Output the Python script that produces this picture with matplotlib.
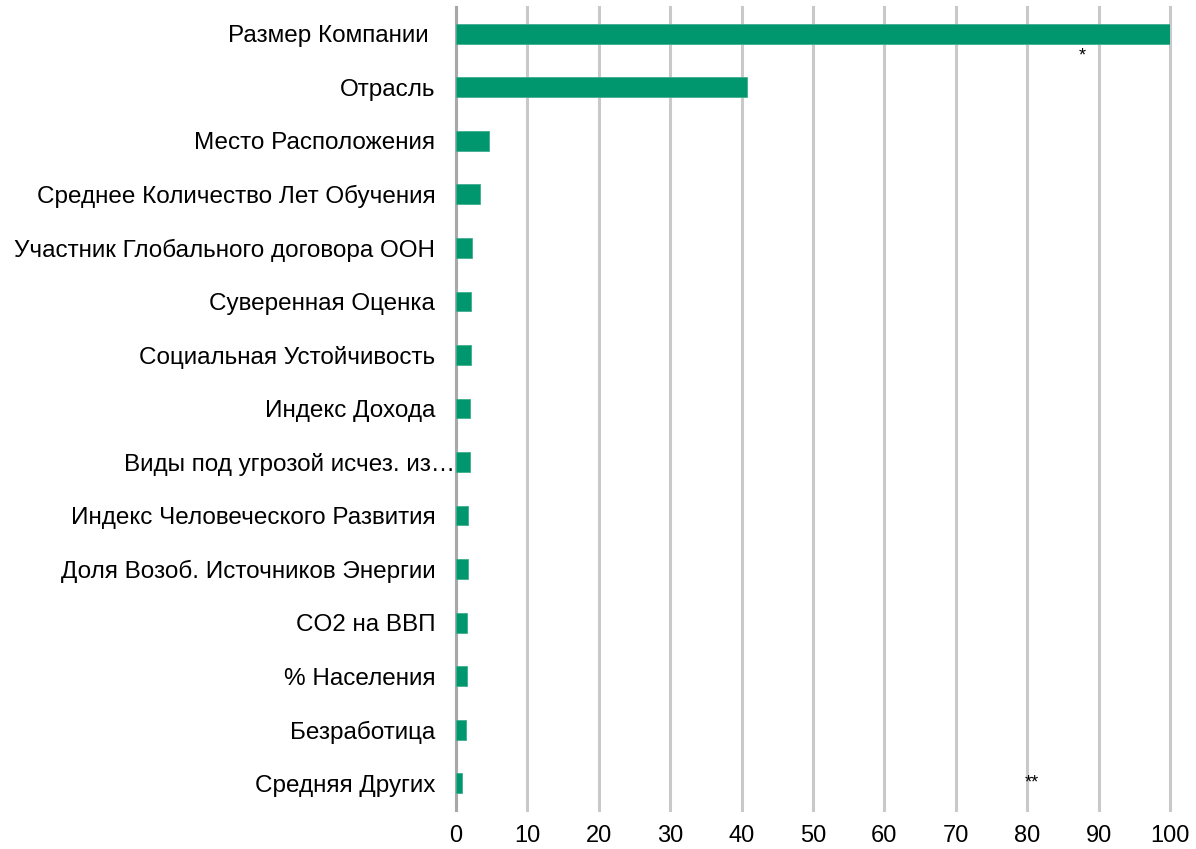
import matplotlib
matplotlib.use("Agg")
import matplotlib.pyplot as plt
import matplotlib.transforms as mtransforms

categories = [
    "Размер Компании ",
    "Отрасль",
    "Место Расположения",
    "Среднее Количество Лет Обучения",
    "Участник Глобального договора ООН",
    "Суверенная Оценка",
    "Социальная Устойчивость",
    "Индекс Дохода",
    "Виды под угрозой исчез. из…",
    "Индекс Человеческого Развития",
    "Доля Возоб. Источников Энергии",
    "CO2 на ВВП",
    "% Населения",
    "Безработица",
    "Средняя Других",
]
values = [100, 40.8, 4.6, 3.4, 2.3, 2.1, 2.1, 2.0, 2.0, 1.75, 1.7, 1.6, 1.55, 1.35, 0.85]
x_ticks = [0, 10, 20, 30, 40, 50, 60, 70, 80, 90, 100]

plt.rcParams['font.family'] = ['Liberation Sans', 'DejaVu Sans']

fig = plt.figure(figsize=(11.96, 8.49), dpi=100)
ax = fig.add_axes([456/1196, 1-810/849, (1170-456)/1196, (810-7)/849])

n = len(categories)
ypos = list(range(n))
ax.barh(ypos, values, height=0.37, color='#00966E', edgecolor='#3fae8f', linewidth=0.6, zorder=3)
ax.set_ylim(n - 0.5, -0.5)
ax.set_xlim(0, 100)
ax.set_xticks(x_ticks)
ax.set_yticks(ypos)
ax.set_yticklabels(categories)
ax.grid(axis='x', color='#c9c9c9', linewidth=2.2, zorder=0)
ax.grid(axis='y', visible=False)
for gl in ax.get_xgridlines():
    gl.set_clip_on(False)
for s in ['top', 'right', 'bottom']:
    ax.spines[s].set_visible(False)
ax.spines['left'].set_color('#a8a8a8')
ax.spines['left'].set_linewidth(2.2)
ax.tick_params(axis='both', length=0, colors='#000000')
ax.tick_params(axis='y', pad=15, labelsize=17.5)
ax.tick_params(axis='x', pad=11, labelsize=17)

# shift the truncated label like the reference
lbl = ax.get_yticklabels()[8]
lbl.set_transform(lbl.get_transform() + mtransforms.ScaledTranslation(20/100, 0, fig.dpi_scale_trans))

ax.text(87.7, 0.42, "*", fontsize=13, ha='center', va='center', zorder=4)
ax.text(80.7, 14.0, "**", fontsize=13, ha='center', va='center', zorder=4)

fig.savefig("out.png", dpi=100)
